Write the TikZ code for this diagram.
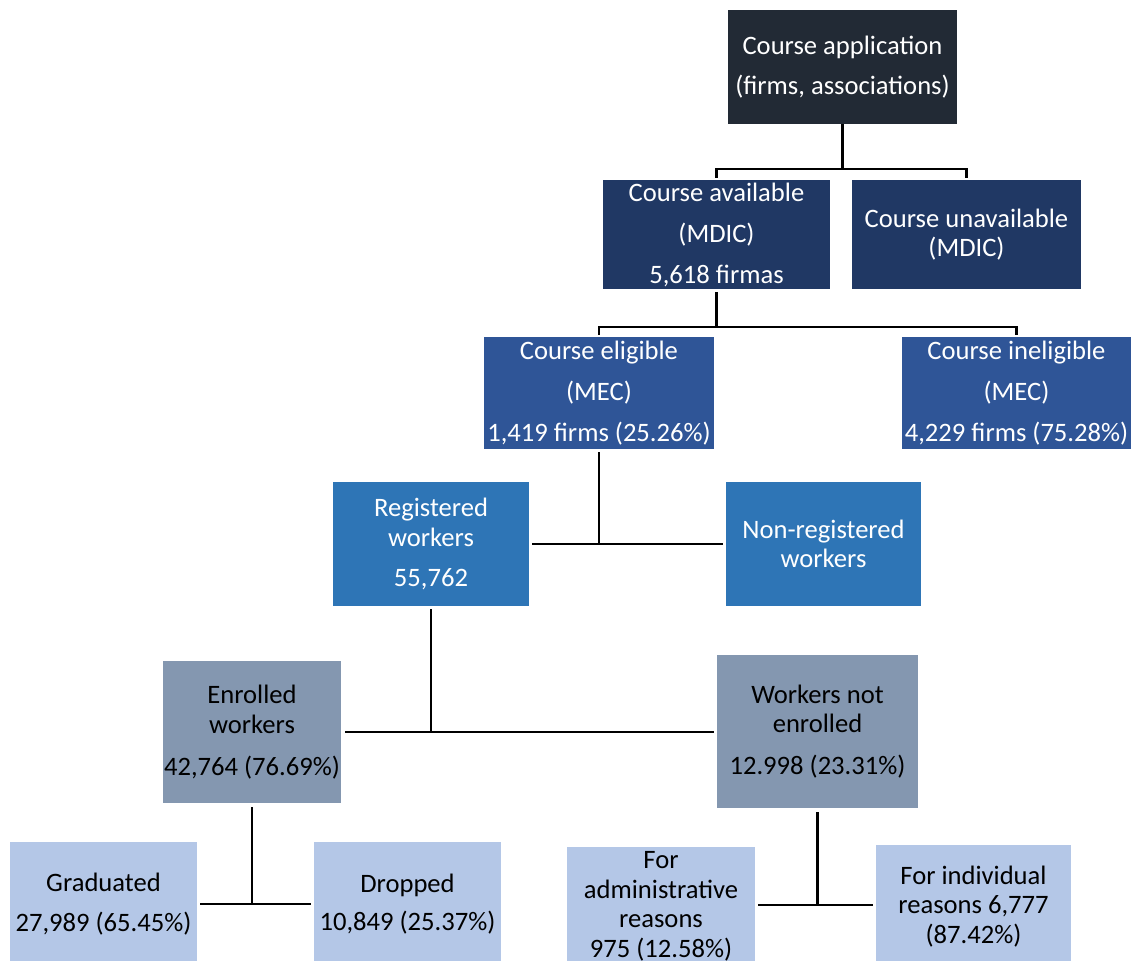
\documentclass[tikz,border=0pt]{standalone}
\usepackage{fontspec}
\setmainfont{Carlito}
\definecolor{cApp}{HTML}{222A35}
\definecolor{cNavy}{HTML}{203864}
\definecolor{cMid}{HTML}{2F5597}
\definecolor{cReg}{HTML}{2E75B6}
\definecolor{cGray}{HTML}{8497B0}
\definecolor{cLight}{HTML}{B4C7E7}
\begin{document}
\begin{tikzpicture}[x=1pt,y=-1pt,
  box/.style={rectangle, inner sep=0pt, align=center, font=\fontsize{26.6}{29.5}\selectfont},
  wbox/.style={box, text=white},
  bbox/.style={box, text=black},
  conn/.style={draw=black, line width=2.8pt}]
\useasboundingbox (0,0) rectangle (1131,960);
% nodes
\node[wbox, fill=cApp, minimum width=229pt, minimum height=114pt] (app) at (842.5,67)
  {Course application\\[11pt](firms, associations)};
\node[wbox, fill=cNavy, minimum width=227pt, minimum height=109pt] (avail) at (716.5,234.5)
  {Course available\\[11.5pt](MDIC)\\[11.5pt]5,618 firmas};
\node[wbox, fill=cNavy, minimum width=229pt, minimum height=109pt] (unavail) at (966.5,234.5)
  {Course unavailable\\(MDIC)};
\node[wbox, fill=cMid, minimum width=230pt, minimum height=112pt] (elig) at (599,393)
  {Course eligible\\[11.5pt](MEC)\\[11.5pt]1,419 firms (25.26\%)};
\node[wbox, fill=cMid, minimum width=229pt, minimum height=112pt] (inelig) at (1016.5,393)
  {Course ineligible\\[11.5pt](MEC)\\[11.5pt]4,229 firms (75.28\%)};
\node[wbox, fill=cReg, minimum width=196pt, minimum height=124pt] (reg) at (431,544)
  {Registered\\workers\\[11pt]55,762};
\node[wbox, fill=cReg, minimum width=195pt, minimum height=124pt] (nonreg) at (823.5,544)
  {Non-registered\\workers};
\node[bbox, fill=cGray, minimum width=178pt, minimum height=142pt] (enr) at (252,732)
  {Enrolled\\workers\\[12.5pt]42,764 (76.69\%)};
\node[bbox, fill=cGray, minimum width=201pt, minimum height=153pt] (notenr) at (817.5,731.5)
  {Workers not\\enrolled\\[12.5pt]12.998 (23.31\%)};
\node[bbox, fill=cLight, minimum width=187pt, minimum height=124pt] (grad) at (103.5,904)
  {Graduated\\[11pt]27,989 (65.45\%)};
\node[bbox, fill=cLight, minimum width=187pt, minimum height=124pt] (drop) at (407.5,904)
  {Dropped\\[9pt]10,849 (25.37\%)};
\node[bbox, fill=cLight, minimum width=188pt, minimum height=119pt] (admin) at (661,906.5)
  {For\\administrative\\reasons\\975 (12.58\%)};
\node[bbox, fill=cLight, minimum width=195pt, minimum height=123pt] (indiv) at (973.5,906.5)
  {For individual\\reasons 6,777\\(87.42\%)};
% connectors
\coordinate (j1) at (842.5,169);
\draw[conn] (app.south) -- (j1);
\draw[conn] ([yshift=2pt]avail.north) -- (avail.north |- j1) -- (unavail.north |- j1) -- ([yshift=2pt]unavail.north);
\coordinate (j2) at (716.5,327);
\draw[conn] ([yshift=-3pt]avail.south) -- (j2);
\draw[conn] ([yshift=2pt]elig.north) -- (elig.north |- j2) -- (inelig.north |- j2) -- ([yshift=2pt]inelig.north);
\draw[conn] ([xshift=3pt]reg.east) -- ([xshift=-3pt]nonreg.west |- reg.east);
\draw[conn] ([yshift=-3pt]elig.south) -- (elig.south |- reg.east);
\draw[conn] ([xshift=4pt]enr.east) -- ([xshift=-3pt]notenr.west |- enr.east);
\draw[conn] ([yshift=-3pt]reg.south) -- (reg.south |- enr.east);
\coordinate (j3) at (252,904);
\draw[conn] ([xshift=3pt]grad.east |- j3) -- ([xshift=-3pt]drop.west |- j3);
\draw[conn] ([yshift=-4pt]enr.south) -- (j3);
\coordinate (j4) at (817.5,905);
\draw[conn] ([xshift=3pt]admin.east |- j4) -- ([xshift=-3pt]indiv.west |- j4);
\draw[conn] ([yshift=-4pt]notenr.south) -- (j4);
\end{tikzpicture}
\end{document}
